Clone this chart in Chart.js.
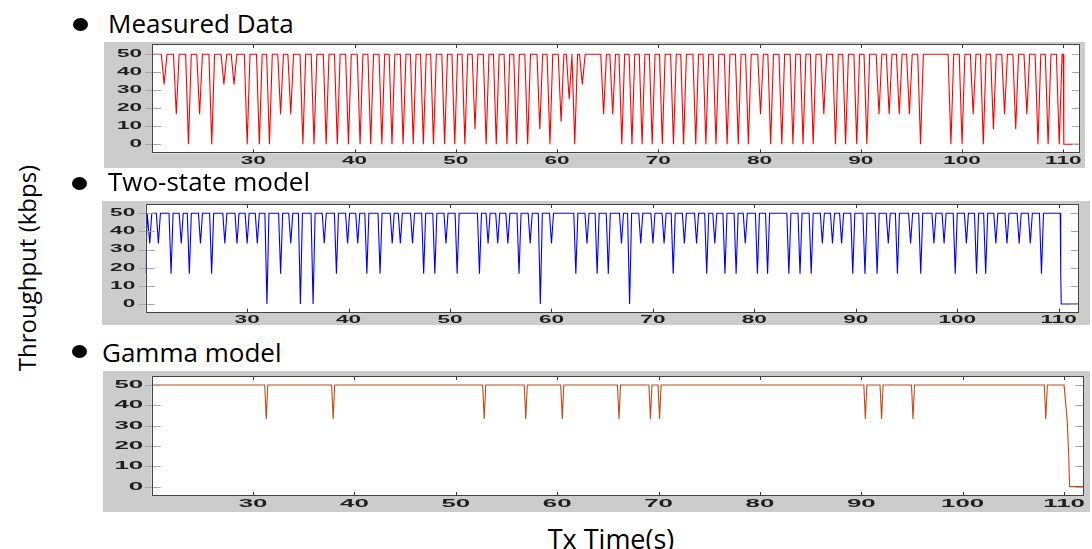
<!DOCTYPE html>
<html>
<head>
<meta charset="utf-8">
<script src="https://cdn.jsdelivr.net/npm/chart.js"></script>
<style>
  body { margin: 0; width: 1092px; height: 549px; background: #fff; position: relative; overflow: hidden; font-family: "Open Sans", sans-serif; }
  .panel { position: absolute; background: #cccccc; }
  .panel canvas { display: block; }
  .head { position: absolute; font-size: 26px; line-height: 26px; color: #000; white-space: nowrap; }
  .dot { position: absolute; width: 15px; height: 13px; border-radius: 50%; background: #000; }
  #ytitle { position: absolute; left: 27px; top: 268px; font-size: 24px; line-height: 24px; white-space: nowrap; transform: translate(-50%, -50%) rotate(-90deg); }
  #xtitle { position: absolute; left: 611px; top: 538px; font-size: 27px; line-height: 27px; white-space: nowrap; transform: translate(-50%, -50%); }
</style>
</head>
<body>

<div class="dot" style="left:73px;top:18px"></div>
<div class="head" style="left:108px;top:10px">Measured Data</div>
<div class="panel" style="left:104px;top:42px;width:981px;height:126px"><canvas id="measured" width="981" height="126"></canvas></div>

<div class="dot" style="left:72px;top:177px"></div>
<div class="head" style="left:108px;top:168px">Two-state model</div>
<div class="panel" style="left:102px;top:201px;width:988px;height:124px"><canvas id="twoState" width="988" height="124"></canvas></div>

<div class="dot" style="left:72px;top:345px"></div>
<div class="head" style="left:102px;top:339px">Gamma model</div>
<div class="panel" style="left:103px;top:371px;width:987px;height:141px"><canvas id="gamma" width="987" height="141"></canvas></div>

<div id="ytitle">Throughput (kbps)</div>
<div id="xtitle">Tx Time(s)</div>

<script>
// valeurs (temps en s, débit en kbps)
const xTickLabels = [30, 40, 50, 60, 70, 80, 90, 100, 110];
const yTickLabels = [0, 10, 20, 30, 40, 50];

// Measured Data : creux (instant, valeur basse)
const measuredTimes = [21.2, 22.4, 23.6, 24.7, 25.9, 27.1, 28.1, 29.4, 30.6, 31.6, 32.7, 33.7, 34.9, 36.0, 37.2, 38.3, 39.4,
  40.55, 41.6, 42.7, 43.7, 44.8, 45.8, 46.8, 47.8, 48.9, 49.9, 50.9, 51.9, 53.0, 54.0, 55.05, 56.0, 57.1, 58.3, 59.3,
  60.4, 61.2, 61.75, 62.5, 64.6, 65.5, 66.4, 67.4, 68.4, 69.4, 70.4, 71.5, 72.5, 73.7, 74.7, 75.7, 76.8, 77.9, 78.9,
  80.1, 81.1, 82.2, 83.3, 84.3, 85.3, 86.35, 87.5, 88.5, 89.6, 90.6, 91.8, 92.8, 93.8, 94.8, 95.9,
  98.9, 100.0, 101.1, 102.1, 103.1, 104.2, 105.3, 106.4, 107.5, 108.5, 109.6];
const measuredLows = [33.3, 16.7, 0, 16.7, 0, 33.3, 33.3, 0, 0, 0, 16.7, 16.7, 0, 0, 0, 0, 0,
  0, 0, 0, 0, 0, 0, 0, 0, 0, 0, 0, 8.3, 0, 0, 0, 0, 0, 8.3, 0,
  12.5, 25, 0, 33.3, 16.7, 16.7, 0, 0, 0, 0, 0, 0, 0, 0, 0, 0, 0, 0, 0,
  16.7, 0, 0, 0, 0, 0, 16.7, 0, 0, 0, 0, 16.7, 16.7, 16.7, 16.7, 0,
  0, 0, 16.7, 0, 8.3, 16.7, 8.3, 16.7, 0, 0, 0];
const measuredHeadX = [20];
const measuredHeadY = [50];
const measuredTailX = [110.0, 110.05, 111.65];
const measuredTailY = [50, 0, 0];

// Two-state model
const twoStateTimes = [20.4, 21.25, 22.5, 23.5, 24.3, 25.4, 26.5, 27.8, 29.0, 30.0, 31.0, 31.95, 33.3, 34.3, 35.25, 36.5,
  37.6, 38.8, 39.9, 40.9, 41.8, 43.1, 44.3, 45.1, 46.3, 47.4, 48.5, 49.6, 50.7, 52.9, 53.75, 54.7, 55.7, 56.8, 57.9,
  58.9, 60.0, 62.4, 63.5, 64.5, 65.6, 66.9, 67.7, 68.8, 70.0, 71.1, 72.0, 73.1, 74.3, 75.3, 76.1, 77.1, 78.2, 79.1,
  80.3, 81.3, 83.4, 84.5, 85.6, 86.7, 87.7, 88.6, 89.7, 90.9, 92.1, 93.2, 94.1, 95.4, 96.4, 97.7, 98.7, 99.8,
  100.9, 101.9, 102.8, 103.8, 104.9, 106.1, 107.2, 108.3];
const twoStateLows = [33.3, 33.3, 16.7, 33.3, 16.7, 33.3, 16.7, 33.3, 33.3, 33.3, 33.3, 0, 16.7, 33.3, 0, 0,
  33.3, 16.7, 33.3, 33.3, 16.7, 16.7, 33.3, 33.3, 33.3, 16.7, 16.7, 33.3, 16.7, 16.7, 33.3, 33.3, 33.3, 16.7, 33.3,
  0, 33.3, 16.7, 33.3, 16.7, 16.7, 33.3, 0, 33.3, 33.3, 33.3, 16.7, 33.3, 33.3, 16.7, 33.3, 16.7, 16.7, 33.3,
  16.7, 16.7, 16.7, 16.7, 16.7, 33.3, 33.3, 33.3, 16.7, 16.7, 16.7, 33.3, 16.7, 33.3, 16.7, 33.3, 33.3, 16.7,
  33.3, 16.7, 16.7, 33.3, 33.3, 33.3, 33.3, 16.7];
const twoStateHeadX = [20, 20.15];
const twoStateHeadY = [16.7, 50];
const twoStateTailX = [110.15, 110.2, 110.25, 112];
const twoStateTailY = [50, 16.7, 0, 0];

// Gamma model
const gammaTimes = [31.3, 37.9, 52.8, 56.9, 60.5, 66.1, 69.2, 70.1, 90.4, 92.0, 95.1, 108.2];
const gammaLows = [33.3, 33.3, 33.3, 33.3, 33.3, 33.3, 33.3, 33.3, 33.3, 33.3, 33.3, 33.3];
const gammaHeadX = [20];
const gammaHeadY = [50];
const gammaTailX = [110.0, 110.15, 110.3, 110.45, 110.55, 111.9];
const gammaTailY = [50, 41.7, 33.3, 16.7, 0, 0];

// construit la courbe : plateau à 50, puis chaque creux
function buildLine(headX, headY, times, lows, halfWidth, tailX, tailY) {
  const pts = headX.map((x, i) => ({ x: x, y: headY[i] }));
  times.forEach((t, i) => {
    pts.push({ x: t - halfWidth, y: 50 }, { x: t, y: lows[i] }, { x: t + halfWidth, y: 50 });
  });
  tailX.forEach((x, i) => pts.push({ x: x, y: tailY[i] }));
  return pts;
}

// fond blanc, cadre, graduations et étiquettes étirées comme sur la figure
const decor = {
  id: 'decor',
  beforeDatasetsDraw(chart) {
    const { ctx, chartArea: a } = chart;
    ctx.save();
    ctx.fillStyle = '#ffffff';
    ctx.fillRect(a.left, a.top, a.right - a.left, a.bottom - a.top);
    ctx.restore();
  },
  afterDraw(chart, args, o) {
    const { ctx, chartArea: a } = chart;
    const xs = chart.scales.x, ys = chart.scales.y;
    ctx.save();
    ctx.lineWidth = 1;
    ctx.strokeStyle = '#a8a8a8';
    ys.ticks.forEach(t => {
      const py = Math.round(ys.getPixelForValue(t.value)) + 0.5;
      ctx.beginPath();
      ctx.moveTo(a.left - 7, py); ctx.lineTo(a.left + 9, py);
      ctx.moveTo(a.right - 8, py); ctx.lineTo(a.right, py);
      ctx.stroke();
    });
    ctx.strokeStyle = '#333333';
    xs.ticks.forEach(t => {
      const px = Math.round(xs.getPixelForValue(t.value)) + 0.5;
      ctx.beginPath();
      ctx.moveTo(px, a.top); ctx.lineTo(px, a.top + 4);
      ctx.moveTo(px, a.bottom); ctx.lineTo(px, a.bottom - 4);
      ctx.stroke();
    });
    ctx.strokeStyle = '#444444';
    ctx.strokeRect(Math.round(a.left) + 0.5, Math.round(a.top) + 0.5,
      Math.round(a.right - a.left) - 1, Math.round(a.bottom - a.top) - 1);

    ctx.fillStyle = '#1e1e1e';
    ctx.font = 'bold ' + o.size + 'px "Liberation Sans", Arial, sans-serif';
    ctx.textBaseline = 'middle';
    ys.ticks.forEach(t => {
      ctx.save();
      ctx.translate(a.left - o.gap, ys.getPixelForValue(t.value));
      ctx.scale(o.stretch, 1);
      ctx.textAlign = 'right';
      ctx.fillText(String(t.value), 0, 0);
      ctx.restore();
    });
    xs.ticks.forEach(t => {
      ctx.save();
      ctx.translate(xs.getPixelForValue(t.value), a.bottom + o.drop);
      ctx.scale(o.stretch, 1);
      ctx.textAlign = 'center';
      ctx.fillText(String(t.value), 0, 0);
      ctx.restore();
    });
    ctx.restore();
  }
};

function makePanel(id, points, color, xMax, yMin, yMax, pad, lab) {
  const ctx = document.getElementById(id).getContext('2d');
  return new Chart(ctx, {
    type: 'line',
    data: {
      datasets: [{
        data: points,
        borderColor: color,
        borderWidth: 1.1,
        pointRadius: 0,
        tension: 0,
        fill: false
      }]
    },
    options: {
      responsive: false,
      animation: false,
      events: [],
      layout: { padding: pad },
      plugins: { legend: { display: false }, tooltip: { enabled: false }, decor: lab },
      scales: {
        x: {
          type: 'linear', display: false, min: 20, max: xMax,
          afterBuildTicks: s => { s.ticks = xTickLabels.map(v => ({ value: v })); }
        },
        y: {
          type: 'linear', display: false, min: yMin, max: yMax,
          afterBuildTicks: s => { s.ticks = yTickLabels.map(v => ({ value: v })); }
        }
      }
    },
    plugins: [decor]
  });
}

makePanel('measured',
  buildLine(measuredHeadX, measuredHeadY, measuredTimes, measuredLows, 0.28, measuredTailX, measuredTailY),
  '#ff0000', 111.65, -5, 55.7,
  { left: 48, top: 2, right: 5, bottom: 14.7 },
  { size: 10.5, stretch: 2.15, gap: 10, drop: 7.5 });

makePanel('twoState',
  buildLine(twoStateHeadX, twoStateHeadY, twoStateTimes, twoStateLows, 0.2, twoStateTailX, twoStateTailY),
  '#0000ff', 112, -4.8, 55.1,
  { left: 43.7, top: 3, right: 11, bottom: 12.3 },
  { size: 10.5, stretch: 2.15, gap: 10.5, drop: 7 });

makePanel('gamma',
  buildLine(gammaHeadX, gammaHeadY, gammaTimes, gammaLows, 0.15, gammaTailX, gammaTailY),
  '#bf4a14', 111.9, -4.6, 54.4,
  { left: 48.7, top: 5, right: 6.7, bottom: 16 },
  { size: 11.5, stretch: 2.25, gap: 8.5, drop: 8 });
</script>
</body>
</html>
